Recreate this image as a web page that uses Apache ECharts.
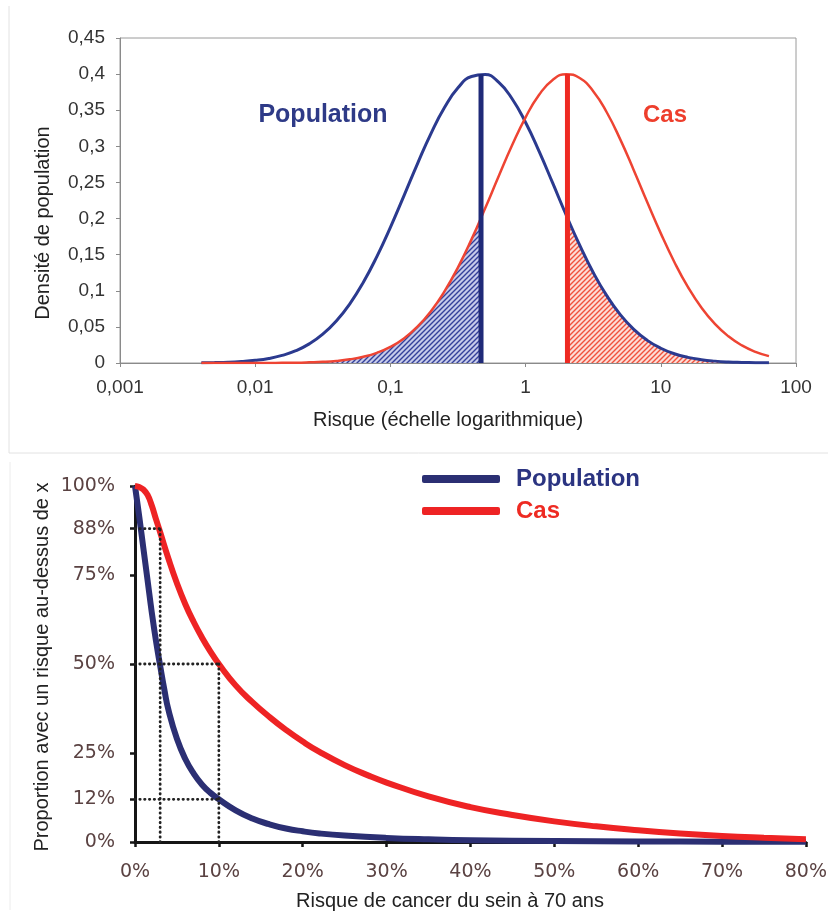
<!DOCTYPE html>
<html>
<head>
<meta charset="utf-8">
<script src="https://cdn.jsdelivr.net/npm/echarts@6/dist/echarts.min.js"></script>
<style>html,body{margin:0;padding:0;background:#fff;}#chart{width:830px;height:916px;}</style>
</head>
<body>
<div id="chart"></div>
<script>
// ---------- TOP PANEL DATA (risk on log scale, density) ----------
const topRisk = [0.0040,0.0050,0.0063,0.0079,0.0100,0.0126,0.0158,0.0200,0.0251,0.0316,0.0398,0.0501,0.0631,0.0794,0.1000,0.1259,0.1585,0.1995,0.2512,0.3162,0.3981,0.5012,0.6310,0.7943,1.000,1.259,1.585,1.995,2.512,3.162,3.981,5.012,6.310,7.943,10.00,12.59,15.85,19.95,25.12,31.62,39.81,50.12,63.10];
const popDensity = [0.0003,0.0006,0.0011,0.0021,0.0037,0.0063,0.0105,0.0170,0.0265,0.0399,0.0582,0.0820,0.1119,0.1474,0.1879,0.2315,0.2758,0.3177,0.3538,0.3810,0.3967,0.3994,0.3888,0.3659,0.3330,0.2930,0.2493,0.2050,0.1631,0.1254,0.0933,0.0670,0.0466,0.0313,0.0204,0.0128,0.0078,0.0046,0.0026,0.0014,0.0008,0.0004,0.0002];
const casDensity = [0.0000,0.0000,0.0000,0.0000,0.0000,0.0001,0.0002,0.0004,0.0009,0.0016,0.0029,0.0051,0.0086,0.0141,0.0223,0.0340,0.0503,0.0718,0.0992,0.1325,0.1712,0.2138,0.2582,0.3014,0.3402,0.3714,0.3919,0.3999,0.3946,0.3764,0.3472,0.3096,0.2670,0.2226,0.1795,0.1399,0.1054,0.0768,0.0541,0.0369,0.0243,0.0155,0.0095];
const popMean = 0.468, casMean = 2.04, peakDensity = 0.4;
const casAtPopMean = 0.198, popAtCasMean = 0.199;
const topXTicks = ['0,001','0,01','0,1','1','10','100'];
const topYTicks = ['0','0,05','0,1','0,15','0,2','0,25','0,3','0,35','0,4','0,45'];

// ---------- BOTTOM PANEL DATA (risk %, proportion above x %) ----------
const popX = [0,0.5,1,1.5,2,2.5,3,3.5,4,5,6,7,8,9,10,12,14,16,18,20,22,25,30,35,40,50,60,70,80];
const popS = [100,91.5,82.5,73.5,64.5,56.5,49.5,42.8,37,29,23.3,19.2,16.1,13.8,12,8.9,6.6,5.0,3.8,3.0,2.4,1.8,1.15,0.75,0.5,0.3,0.15,0.1,0.05];
const casX = [0,0.5,1,1.5,2,2.5,3,4,5,6,7,8,9,10,12,14,16,18,20,22,25,28,30,35,40,45,50,55,60,65,70,75,80];
const casS = [100,99.7,99,97.5,94.5,90.7,87,79.5,72.7,66.8,61.8,57.4,53.5,50,44,39.3,35.2,31.5,28.2,25.3,21.6,18.5,16.7,12.8,9.8,7.6,5.8,4.4,3.3,2.4,1.7,1.2,0.8];
const bottomXTicks = [0,10,20,30,40,50,60,70,80];
const bottomYTicks = [0,12,25,50,75,88,100];
const guideLines = [
  [[0,88],[3,88]],
  [[3,0],[3,88]],
  [[0,50],[10,50]],
  [[10,0],[10,50]],
  [[0,12],[10,12]]
];

// ---------- styles ----------
const FONT = "'Liberation Sans', Arial, sans-serif";
const WIDE = "'DejaVu Sans', Verdana, sans-serif";
const NAVY = '#2b3a8f', RED = '#ee4433';
const NAVY2 = '#2b2f73', RED2 = '#ee2324';

function makeHatch(bg, fg) {
  const s = 5;
  const c = document.createElement('canvas');
  c.width = s; c.height = s;
  const g = c.getContext('2d');
  g.fillStyle = bg; g.fillRect(0, 0, s, s);
  g.strokeStyle = fg; g.lineWidth = 1.4;
  g.beginPath();
  g.moveTo(-1, s + 1); g.lineTo(s + 1, -1);
  g.moveTo(-1, 1); g.lineTo(1, -1);
  g.moveTo(s - 1, s + 1); g.lineTo(s + 1, s - 1);
  g.stroke();
  return c;
}

const blueHatch = topRisk.map((x, i) => [x, casDensity[i]]).filter(p => p[0] < popMean).concat([[popMean, casAtPopMean]]);
const redHatch = [[casMean, popAtCasMean]].concat(topRisk.map((x, i) => [x, popDensity[i]]).filter(p => p[0] > casMean));

const chart = echarts.init(document.getElementById('chart'));

const series = [
  { name: 'hatchBlue', type: 'line', xAxisIndex: 0, yAxisIndex: 0, data: blueHatch, smooth: true, symbol: 'none',
    lineStyle: { width: 0, opacity: 0 }, areaStyle: { color: { image: makeHatch('#c6cbea', '#34409a'), repeat: 'repeat' }, opacity: 1 }, z: 1, silent: true },
  { name: 'hatchRed', type: 'line', xAxisIndex: 0, yAxisIndex: 0, data: redHatch, smooth: true, symbol: 'none',
    lineStyle: { width: 0, opacity: 0 }, areaStyle: { color: { image: makeHatch('#fddcd5', '#f0503c'), repeat: 'repeat' }, opacity: 1 }, z: 1, silent: true },
  { name: 'densPop', type: 'line', xAxisIndex: 0, yAxisIndex: 0, data: topRisk.map((x, i) => [x, popDensity[i]]), smooth: true, symbol: 'none',
    lineStyle: { color: NAVY, width: 3 }, itemStyle: { color: NAVY }, z: 3 },
  { name: 'densCas', type: 'line', xAxisIndex: 0, yAxisIndex: 0, data: topRisk.map((x, i) => [x, casDensity[i]]), smooth: true, symbol: 'none',
    lineStyle: { color: RED, width: 2.5 }, itemStyle: { color: RED }, z: 3 },
  { name: 'meanPop', type: 'line', xAxisIndex: 0, yAxisIndex: 0, data: [[popMean, 0], [popMean, peakDensity]], symbol: 'none',
    lineStyle: { color: '#1f2a78', width: 5, cap: 'butt' }, z: 5 },
  { name: 'meanCas', type: 'line', xAxisIndex: 0, yAxisIndex: 0, data: [[casMean, 0], [casMean, peakDensity]], symbol: 'none',
    lineStyle: { color: '#ee2a22', width: 5, cap: 'butt' }, z: 5 },
  { name: 'Population', type: 'line', xAxisIndex: 1, yAxisIndex: 1, data: popX.map((x, i) => [x, popS[i]]), smooth: 0.5, symbol: 'none',
    lineStyle: { color: NAVY2, width: 6, join: 'round' }, itemStyle: { color: NAVY2 }, z: 3 },
  { name: 'Cas', type: 'line', xAxisIndex: 1, yAxisIndex: 1, data: casX.map((x, i) => [x, casS[i]]), smooth: 0.5, symbol: 'none',
    lineStyle: { color: RED2, width: 6, join: 'round' }, itemStyle: { color: RED2 }, z: 3 }
];
guideLines.forEach((seg, k) => {
  series.push({ name: 'guide' + k, type: 'line', xAxisIndex: 1, yAxisIndex: 1, data: seg, symbol: 'none',
    lineStyle: { color: '#222', width: 2.8, type: [0.4, 4.4], cap: 'round' }, z: 6, silent: true });
});

const option = {
  animation: false,
  backgroundColor: '#ffffff',
  grid: [
    { left: 120, top: 38, width: 676, height: 325, show: true, borderColor: '#9a9a9a', borderWidth: 1, backgroundColor: 'transparent' },
    { left: 135, top: 486, width: 679, height: 356 }
  ],
  legend: {
    data: [
      { name: 'Population', textStyle: { color: '#2b3481' } },
      { name: 'Cas', textStyle: { color: '#ee2a22' } }
    ],
    orient: 'vertical', left: 417, top: 461, itemWidth: 78, itemHeight: 8, itemGap: 6,
    icon: 'roundRect', selectedMode: false,
    textStyle: { fontFamily: FONT, fontSize: 24, fontWeight: 'bold', padding: [0, 0, 0, 11], lineHeight: 26 }
  },
  xAxis: [
    { gridIndex: 0, type: 'log', logBase: 10, min: 0.001, max: 100,
      axisLine: { lineStyle: { color: '#8a8a8a', width: 1 } },
      axisTick: { length: 4, lineStyle: { color: '#8a8a8a' } },
      axisLabel: { fontFamily: FONT, fontSize: 19, color: '#333', margin: 15,
        formatter: v => topXTicks[Math.round(Math.log10(v)) + 3] },
      splitLine: { show: false } },
    { gridIndex: 1, type: 'value', min: 0, max: 80, interval: 10,
      axisLine: { lineStyle: { color: '#151515', width: 3 } },
      axisTick: { length: 5, lineStyle: { color: '#151515', width: 2.5 }, customValues: bottomXTicks },
      axisLabel: { fontFamily: WIDE, fontSize: 19, color: '#5a4242', margin: 21, customValues: bottomXTicks,
        formatter: v => v + '%' },
      splitLine: { show: false } }
  ],
  yAxis: [
    { gridIndex: 0, type: 'value', min: 0, max: 0.45, interval: 0.05,
      axisLine: { show: true, lineStyle: { color: '#8a8a8a', width: 1 } },
      axisTick: { show: true, length: 4, lineStyle: { color: '#8a8a8a' } },
      axisLabel: { fontFamily: FONT, fontSize: 19, color: '#333', margin: 15,
        formatter: v => topYTicks[Math.round(v / 0.05)] },
      splitLine: { show: false } },
    { gridIndex: 1, type: 'value', min: 0, max: 100,
      axisLine: { show: true, lineStyle: { color: '#151515', width: 3 } },
      axisTick: { show: true, length: 5, lineStyle: { color: '#151515', width: 2.5 }, customValues: bottomYTicks },
      axisLabel: { fontFamily: WIDE, fontSize: 19, color: '#5a4242', margin: 20, customValues: bottomYTicks,
        formatter: v => v + '%' },
      splitLine: { show: false } }
  ],
  graphic: [
    { type: 'line', shape: { x1: 9, y1: 6, x2: 9, y2: 453 }, style: { stroke: '#e2e2e2', lineWidth: 1 }, silent: true },
    { type: 'line', shape: { x1: 9, y1: 453, x2: 828, y2: 453 }, style: { stroke: '#e2e2e2', lineWidth: 1 }, silent: true },
    { type: 'line', shape: { x1: 10, y1: 462, x2: 10, y2: 910 }, style: { stroke: '#ececec', lineWidth: 1 }, silent: true },
    { type: 'text', x: 43, y: 223, rotation: Math.PI / 2,
      style: { text: 'Densité de population', font: '20px ' + FONT, fill: '#222', align: 'center', verticalAlign: 'middle' } },
    { type: 'text', x: 448, y: 420,
      style: { text: 'Risque (échelle logarithmique)', font: '20px ' + FONT, fill: '#222', align: 'center', verticalAlign: 'middle' } },
    { type: 'text', x: 323, y: 115,
      style: { text: 'Population', font: 'bold 25px ' + FONT, fill: '#2e3a87', align: 'center', verticalAlign: 'middle' } },
    { type: 'text', x: 665, y: 115,
      style: { text: 'Cas', font: 'bold 24px ' + FONT, fill: '#ee3e2c', align: 'center', verticalAlign: 'middle' } },
    { type: 'text', x: 42, y: 667, rotation: Math.PI / 2,
      style: { text: 'Proportion avec un risque au-dessus de x', font: '20px ' + FONT, fill: '#222', align: 'center', verticalAlign: 'middle' } },
    { type: 'text', x: 450, y: 901,
      style: { text: 'Risque de cancer du sein à 70 ans', font: '20px ' + FONT, fill: '#222', align: 'center', verticalAlign: 'middle' } }
  ],
  series: series
};
chart.setOption(option);
</script>
</body>
</html>
